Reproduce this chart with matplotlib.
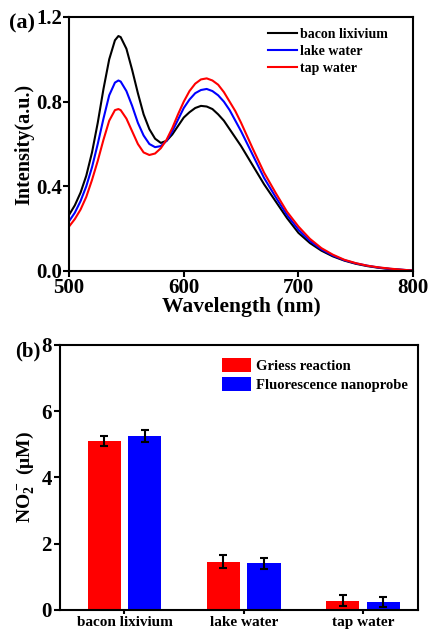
import matplotlib
matplotlib.use("Agg")
from matplotlib import pyplot as plt
import numpy as np

plt.rcParams['font.family'] = ['Liberation Serif', 'DejaVu Serif']
plt.rcParams['font.weight'] = 'bold'
plt.rcParams['mathtext.fontset'] = 'custom'
plt.rcParams['mathtext.bf'] = 'Liberation Serif:bold'
plt.rcParams['mathtext.rm'] = 'Liberation Serif:bold'
plt.rcParams['mathtext.default'] = 'bf'

# Spectra (panel a) ---------------------------------------------------------------
wavelength = [500, 505, 510, 515, 520, 525, 530, 535, 540, 543, 545, 550, 555, 560, 565, 570,
              575, 580, 585, 590, 595, 600, 605, 610, 615, 620, 625, 630, 635, 640, 645, 650,
              660, 670, 680, 690, 700, 710, 720, 730, 740, 750, 760, 770, 780, 790, 800]
bacon = [0.265, 0.31, 0.37, 0.45, 0.56, 0.70, 0.86, 1.00, 1.09, 1.11, 1.105, 1.05, 0.95, 0.84,
         0.74, 0.67, 0.625, 0.605, 0.615, 0.645, 0.685, 0.725, 0.75, 0.77, 0.78, 0.777, 0.765,
         0.74, 0.71, 0.67, 0.63, 0.59, 0.50, 0.41, 0.33, 0.25, 0.18, 0.132, 0.096, 0.069, 0.049,
         0.034, 0.023, 0.015, 0.009, 0.005, 0.002]
lake = [0.235, 0.275, 0.33, 0.40, 0.49, 0.60, 0.72, 0.83, 0.89, 0.90, 0.895, 0.85, 0.78, 0.70,
        0.64, 0.60, 0.585, 0.59, 0.615, 0.66, 0.715, 0.77, 0.81, 0.84, 0.855, 0.86, 0.85, 0.83,
        0.80, 0.76, 0.71, 0.66, 0.55, 0.44, 0.35, 0.265, 0.195, 0.142, 0.102, 0.073, 0.051,
        0.036, 0.025, 0.016, 0.010, 0.006, 0.002]
tap = [0.21, 0.245, 0.29, 0.35, 0.43, 0.52, 0.62, 0.71, 0.76, 0.765, 0.76, 0.72, 0.66, 0.60,
       0.56, 0.548, 0.555, 0.58, 0.62, 0.675, 0.74, 0.80, 0.85, 0.885, 0.905, 0.91, 0.90, 0.88,
       0.845, 0.80, 0.755, 0.70, 0.58, 0.465, 0.37, 0.28, 0.21, 0.152, 0.108, 0.077, 0.053,
       0.037, 0.025, 0.017, 0.011, 0.006, 0.002]

# Bars (panel b) ------------------------------------------------------------------
samples = ["bacon lixivium", "lake water", "tap water"]
griess = [5.11, 1.46, 0.28]
griess_err = [0.15, 0.19, 0.16]
probe = [5.26, 1.41, 0.25]
probe_err = [0.18, 0.17, 0.15]

fig = plt.figure(figsize=(4.29, 6.34), dpi=100)

# Panel a
ax1 = fig.add_axes([0.161, 0.5726, 0.802, 0.4006])
ax1.plot(wavelength, bacon, color='black', lw=1.5, label='bacon lixivium')
ax1.plot(wavelength, lake, color='#0000ff', lw=1.5, label='lake water')
ax1.plot(wavelength, tap, color='#ff0000', lw=1.5, label='tap water')
ax1.set_xlim(500, 800)
ax1.set_ylim(0, 1.2)
ax1.set_xticks([500, 600, 700, 800])
ax1.set_yticks([0.0, 0.4, 0.8, 1.2])
ax1.set_yticklabels(['0.0', '0.4', '0.8', '1.2'])
ax1.tick_params(direction='out', length=4, width=1.5, labelsize=15, pad=1)
ax1.set_xlabel('Wavelength (nm)', fontsize=15.5, fontweight='bold', labelpad=-1)
ax1.set_ylabel('Intensity(a.u.)', fontsize=14.5, fontweight='bold', labelpad=1)
for s in ax1.spines.values():
    s.set_linewidth(1.5)
ax1.legend(loc='upper right', bbox_to_anchor=(0.955, 0.995), frameon=False, fontsize=10,
           handlelength=2.1, handletextpad=0.2, labelspacing=0.3, borderaxespad=0.3)
fig.text(0.022, 0.963, '(a)', fontsize=16, fontweight='bold', ha='left', va='center')

# Panel b
ax2 = fig.add_axes([0.140, 0.0379, 0.834, 0.418])
x = np.arange(len(samples))
w = 0.277
ax2.bar(x - 0.17, griess, w, yerr=griess_err, color='#ff0000', label='Griess reaction',
        error_kw=dict(ecolor='black', elinewidth=1.5, capsize=3, capthick=1.5))
ax2.bar(x + 0.17, probe, w, yerr=probe_err, color='#0000ff', label='Fluorescence nanoprobe',
        error_kw=dict(ecolor='black', elinewidth=1.5, capsize=3, capthick=1.5))
ax2.set_xlim(-0.54, 2.46)
ax2.set_ylim(0, 8)
ax2.set_xticks(x)
ax2.set_xticklabels(samples)
ax2.set_yticks([0, 2, 4, 6, 8])
ax2.tick_params(axis='y', direction='out', length=4, width=1.5, labelsize=15, pad=2)
ax2.tick_params(axis='x', direction='out', length=3, width=1.5, labelsize=11, pad=1)
ax2.set_ylabel(r'NO$_2^-$ (μM)', fontsize=14, fontweight='bold', labelpad=4)
for s in ax2.spines.values():
    s.set_linewidth(1.5)
ax2.legend(loc='upper right', bbox_to_anchor=(1.0, 0.99), frameon=False, fontsize=10.5,
           handlelength=2.0, handleheight=1.1, handletextpad=0.3, labelspacing=0.3,
           borderaxespad=0.3)
fig.text(0.035, 0.445, '(b)', fontsize=15, fontweight='bold', ha='left', va='center')

fig.savefig('out.png', dpi=100)
